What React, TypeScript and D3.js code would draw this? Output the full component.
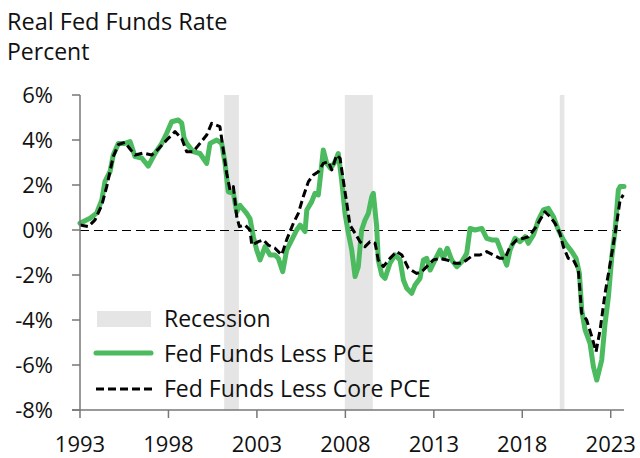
import React from "react";
import * as d3 from "d3";

const pceYears = [1993.0,1993.57,1993.94,1994.23,1994.41,1994.7,1994.88,1995.17,1995.54,1995.83,1996.11,1996.49,1996.86,1997.24,1997.62,1997.9,1998.18,1998.56,1998.75,1998.88,1999.03,1999.4,1999.78,2000.16,2000.35,2000.73,2001.01,2001.2,2001.38,2001.67,2001.86,2002.04,2002.42,2002.61,2002.8,2002.99,2003.18,2003.46,2003.74,2004.02,2004.21,2004.46,2004.68,2004.97,2005.25,2005.44,2005.72,2005.82,2006.1,2006.28,2006.47,2006.61,2006.75,2006.95,2007.17,2007.42,2007.6,2007.79,2007.98,2008.17,2008.36,2008.55,2008.73,2008.92,2009.11,2009.3,2009.49,2009.58,2009.77,2009.86,2010.06,2010.24,2010.52,2010.81,2011.09,2011.28,2011.47,2011.75,2011.94,2012.22,2012.41,2012.6,2012.79,2013.07,2013.35,2013.54,2013.76,2014.01,2014.3,2014.58,2014.86,2015.05,2015.33,2015.71,2015.99,2016.27,2016.56,2016.74,2016.93,2017.12,2017.31,2017.59,2017.87,2018.16,2018.34,2018.63,2018.91,2019.19,2019.47,2019.76,2020.04,2020.32,2020.51,2020.8,2021.04,2021.23,2021.36,2021.55,2021.83,2022.02,2022.21,2022.49,2022.68,2022.87,2023.06,2023.25,2023.43,2023.53,2023.75];
const pceValues = [0.3,0.52,0.75,1.33,2.15,2.6,3.33,3.85,3.85,3.93,3.26,3.2,2.84,3.4,3.85,4.3,4.81,4.89,4.75,4.1,3.85,3.48,3.4,2.96,3.85,4.0,3.85,2.96,1.7,1.63,0.8,1.1,0.74,0.5,-0.3,-0.89,-1.33,-0.74,-1.11,-1.11,-1.26,-1.85,-0.89,-0.44,0,0.22,-0.07,0.89,1.26,1.63,1.56,2.52,3.56,2.96,2.74,3.04,3.4,2.22,0.74,-0.15,-0.89,-2.07,-1.63,0,0.44,0.74,1.48,1.63,0.15,-1.33,-2.0,-2.15,-1.48,-1.11,-1.33,-2.22,-2.59,-2.81,-2.44,-2.15,-1.33,-1.26,-1.78,-1.33,-0.89,-1.26,-0.81,-1.33,-1.63,-1.41,-1.04,0.07,0,0.07,-0.37,-0.44,-0.44,-0.81,-1.19,-1.56,-0.89,-0.37,-0.52,-0.3,-0.59,-0.22,0.44,0.89,0.96,0.59,0,-0.44,-0.67,-0.96,-1.26,-1.93,-3.56,-4.44,-5.04,-6.07,-6.67,-5.78,-4.15,-2.96,-1.19,0,1.78,1.93,1.93];

const coreYears = [1993.0,1993.47,1993.85,1994.23,1994.51,1994.88,1995.17,1995.54,1995.83,1996.11,1996.58,1997.05,1997.43,1997.9,1998.37,1998.75,1999.03,1999.4,1999.78,2000.16,2000.44,2000.91,2001.1,2001.29,2001.48,2001.67,2001.86,2002.01,2002.33,2002.61,2002.71,2003.08,2003.36,2003.64,2004.02,2004.4,2004.68,2005.06,2005.34,2005.62,2005.91,2006.19,2006.47,2006.75,2007.04,2007.23,2007.51,2007.7,2007.88,2008.08,2008.26,2008.55,2008.83,2009.11,2009.39,2009.68,2009.86,2010.15,2010.52,2010.9,2011.19,2011.56,2012.03,2012.32,2012.6,2012.97,2013.35,2013.73,2014.2,2014.58,2014.86,2015.23,2015.61,2015.99,2016.36,2016.74,2017.02,2017.31,2017.69,2018.06,2018.34,2018.72,2019.0,2019.28,2019.57,2019.85,2020.13,2020.32,2020.6,2020.89,2021.17,2021.36,2021.64,2021.93,2022.17,2022.4,2022.68,2022.97,2023.25,2023.53,2023.71];
const coreValues = [0.22,0.15,0.45,1.1,1.93,3.26,3.8,3.9,3.6,3.33,3.42,3.33,3.6,4.0,4.37,4.07,3.48,3.48,3.85,4.22,4.74,4.59,3.56,2.52,1.78,1.93,0.59,0.15,0.22,0,-0.67,-0.52,-0.44,-0.67,-0.81,-1.11,-0.44,0.3,0.74,1.48,2.15,2.44,2.59,2.96,3.04,2.67,3.33,3.19,2.22,1.19,0.22,-0.15,-0.52,-0.74,-0.52,-0.59,-1.33,-1.63,-1.26,-0.96,-1.11,-1.7,-1.93,-1.85,-1.63,-1.33,-1.26,-1.33,-1.48,-1.48,-1.33,-1.11,-1.11,-0.96,-1.11,-1.26,-1.26,-0.74,-0.44,-0.37,-0.3,0.07,0.44,0.81,0.59,0.3,-0.15,-0.74,-1.26,-1.33,-1.78,-3.7,-4.0,-4.74,-5.41,-4.44,-2.81,-1.48,-0.15,1.33,1.56];

const recessionStarts = [2001.15, 2007.97, 2020.12];
const recessionEnds = [2001.98, 2009.55, 2020.38];

const xTickYears = [1993, 1998, 2003, 2008, 2013, 2018, 2023];
const yTickValues = [-8, -6, -4, -2, 0, 2, 4, 6];

const titleText = "Real Fed Funds Rate";
const subtitleText = "Percent";
const legendLabels = ["Recession", "Fed Funds Less PCE", "Fed Funds Less Core PCE"];

const GREEN = "#4cbb5f";
const INK = "#111";
const AXIS = "#777";
const FONT = "'Open Sans', sans-serif";

export default function App() {
  const x = d3.scaleLinear().domain([1993, 2023.75]).range([80, 624]);
  const y = d3.scaleLinear().domain([-8, 6]).range([410, 95]);

  const pceData = pceYears.map((t, i) => [t, pceValues[i]] as [number, number]);
  const coreData = coreYears.map((t, i) => [t, coreValues[i]] as [number, number]);
  const line = d3.line<[number, number]>().x(d => x(d[0])).y(d => y(d[1])).curve(d3.curveLinear);

  return (
    <svg width={640} height={458} style={{ position: "absolute", left: 0, top: 0 }} fontFamily={FONT}>
      <rect x={0} y={0} width={640} height={458} fill="#fff" />
      <text x={7} y={30} fontSize={23.5} fill={INK}>{titleText}</text>
      <text x={7} y={60} fontSize={23} fill={INK}>{subtitleText}</text>

      {recessionStarts.map((s, i) => (
        <rect key={i} x={x(s)} y={y(6)} width={x(recessionEnds[i]) - x(s)} height={y(-8) - y(6)} fill="#e5e5e5" />
      ))}

      <line x1={x(1993)} x2={x(2023.75)} y1={y(0) + 0.5} y2={y(0) + 0.5} stroke="#000" strokeWidth={1} strokeDasharray="9,5" />

      <path d={line(pceData) || ""} fill="none" stroke={GREEN} strokeWidth={5} strokeLinejoin="round" strokeLinecap="round" />
      <path d={line(coreData) || ""} fill="none" stroke="#000" strokeWidth={3} strokeDasharray="8,4" strokeLinejoin="round" />

      {/* axes */}
      <line x1={80} x2={80} y1={y(6)} y2={y(-8)} stroke={AXIS} strokeWidth={1.5} />
      <line x1={72} x2={x(2023.75)} y1={y(-8)} y2={y(-8)} stroke={AXIS} strokeWidth={1.5} />
      {yTickValues.map(v => (
        <g key={v}>
          <line x1={72} x2={80} y1={y(v)} y2={y(v)} stroke={AXIS} strokeWidth={1.5} />
          <text x={53} y={y(v)} dy="0.36em" textAnchor="end" fontSize={22} fill={INK}>{`${v}%`}</text>
        </g>
      ))}
      {xTickYears.map(t => (
        <g key={t}>
          <line x1={x(t)} x2={x(t)} y1={y(-8)} y2={y(-8) + 8} stroke={AXIS} strokeWidth={1.5} />
          <text x={x(t)} y={452} textAnchor="middle" fontSize={22} fill={INK}>{t}</text>
        </g>
      ))}

      {/* legend */}
      <rect x={97} y={311} width={54} height={16} fill="#e5e5e5" />
      <text x={164} y={327} fontSize={23} fill={INK}>{legendLabels[0]}</text>
      <line x1={96} x2={151} y1={353} y2={353} stroke={GREEN} strokeWidth={5} strokeLinecap="round" />
      <text x={164} y={362} fontSize={23} fill={INK}>{legendLabels[1]}</text>
      <line x1={96} x2={152} y1={389} y2={389} stroke="#000" strokeWidth={3} strokeDasharray="8,4" />
      <text x={164} y={397} fontSize={23} fill={INK}>{legendLabels[2]}</text>
    </svg>
  );
}
